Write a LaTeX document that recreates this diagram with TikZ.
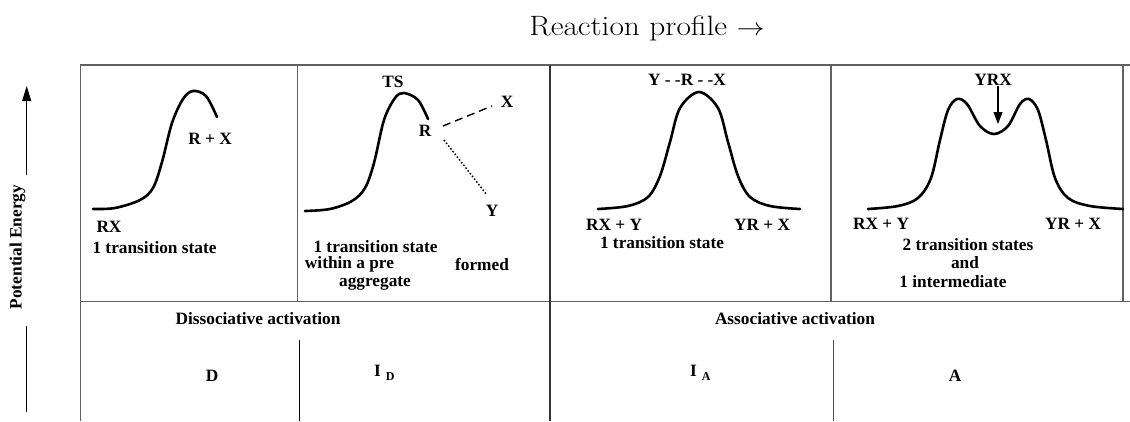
\documentclass[tikz,border=0pt]{standalone}
\usepackage{fontspec}
\setmainfont{Liberation Serif}
\newfontfamily\titlefont{Latin Modern Roman}
\usetikzlibrary{arrows.meta,calc}
\begin{document}
\begin{tikzpicture}[x=1pt,y=-1pt,
  lbl/.style={font=\fontsize{17.3}{19}\selectfont\bfseries, inner sep=0pt},
  frame/.style={draw=black!62, line width=1.4pt},
  frameb/.style={draw=black!80, line width=1.7pt},
  curve/.style={line width=2.6pt, line cap=round, line join=round},
  thin/.style={line width=1pt},
  tip/.style={-{Triangle[length=12pt,width=9pt]}}
]
\useasboundingbox (0,0) rectangle (1130,421);

% title
\node[font=\titlefont\fontsize{28}{30}\selectfont, inner sep=0pt] (title) at (647,28) {\scalebox{1.12}[1]{Reaction profile $\rightarrow$}};

% potential energy axis
\node[lbl, rotate=90] (pe) at (17.5,247) {Potential Energy};
\coordinate (pa1) at (26.7,175);
\coordinate (pa2) at (26.7,86);
\coordinate (pb1) at (26.7,326);
\coordinate (pb2) at (26.7,412);
\draw[thin, -{Triangle[length=15pt,width=9pt]}] (pa1) -- (pa2);
\draw[thin] (pb1) -- (pb2);

% frame
\draw[frame] (80.7,421) -- (80.7,65) -- (1130,65);
\draw[frame] (80.7,301.5) -- (1130,301.5);
\draw[frame] (297.5,65) -- (297.5,301.5);
\draw[frameb] (550,65) -- (550,421);
\draw[frame] (831,65) -- (831,301.5);
\draw[frame] (1123,65) -- (1123,301.5);
\draw[thin] (299,340) -- (299,421);
\draw[thin, draw=black!70] (833,340) -- (833,421);

% panel 1
\draw[curve] plot[smooth, tension=0.55] coordinates {(93,209) (115,208) (140,200) (153,188) (162,162) (172,123) (183,99) (193,91) (206,96) (217,117)};
\node[lbl] (p1rx) at (210,139) {R + X};
\node[lbl] (p1r) at (109,227) {RX};
\node[lbl] (p1t) at (154.5,248) {1 transition state};

% panel 2
\draw[curve] plot[smooth, tension=0.55] coordinates {(305,211) (330,209) (352,201) (365,188) (374,163) (384,120) (395,98) (404,93) (418,100) (428,119)};
\node[lbl] (ts) at (393,82) {TS};
\node[lbl] (r2) at (425,131) {R};
\node[lbl] (x2) at (507,102) {X};
\node[lbl] (y2) at (492,211) {Y};
\draw[line width=1.4pt, dash pattern=on 8pt off 5pt] ($(r2)+(18,-5)$) -- ($(x2)+(-15,4)$);
\draw[line width=1.5pt, dotted] ($(r2)+(19,9)$) -- ($(y2)+(-5,-16)$);
\node[lbl] (p2t) at (375.5,247) {1 transition state};
\node[lbl] (p2w) at (349.5,264.5) {within a pre};
\node[lbl] (p2f) at (482,264.5) {formed};
\node[lbl] (p2a) at (375,283.5) {aggregate};

% panel 3
\draw[curve] plot[smooth, tension=0.55] coordinates {(598,209) (628,206) (648,197) (660,176) (670,142) (680,108) (699,92) (718,108) (728,142) (738,176) (750,197) (770,206) (800,209)};
\node[lbl] (yrx3) at (687,80) {Y - -R - -X};
\node[lbl] (l3) at (614,225) {RX + Y};
\node[lbl] (r3) at (762,225) {YR + X};
\node[lbl] (p3t) at (662,243) {1 transition state};

% panel 4
\draw[curve] plot[smooth, tension=0.55] coordinates {(868,209) (898,206) (918,198) (931,178) (940,140) (948,110) (957,99) (967,104) (980,126) (994,134) (1008,126) (1020,104) (1029,99) (1038,110) (1046,140) (1055,178) (1068,198) (1090,206) (1123,209)};
\node[lbl] (yrx4) at (993,80) {YRX};
\coordinate (trough) at (998,124);
\draw[line width=1.2pt, tip] (yrx4.south -| trough) -- (trough);
\node[lbl] (l4) at (881,224) {RX + Y};
\node[lbl] (r4) at (1073,224) {YR + X};
\node[lbl] (p4a) at (968,245) {2 transition states};
\node[lbl] (p4b) at (965,263) {and};
\node[lbl] (p4c) at (953,282) {1 intermediate};

% lower section
\node[lbl] (diss) at (258,319) {Dissociative activation};
\node[lbl] (assoc) at (795,319) {Associative activation};
\node[lbl] (D) at (212,376) {D};
\node[lbl, anchor=base west] (ID) at (374,376.5) {I\hspace{5pt}\raisebox{-4pt}{\fontsize{12}{12}\selectfont D}};
\node[lbl, anchor=base west] (IA) at (690,376.5) {I\hspace{5pt}\raisebox{-4pt}{\fontsize{12}{12}\selectfont A}};
\node[lbl] (A) at (955,376) {A};
\end{tikzpicture}
\end{document}
